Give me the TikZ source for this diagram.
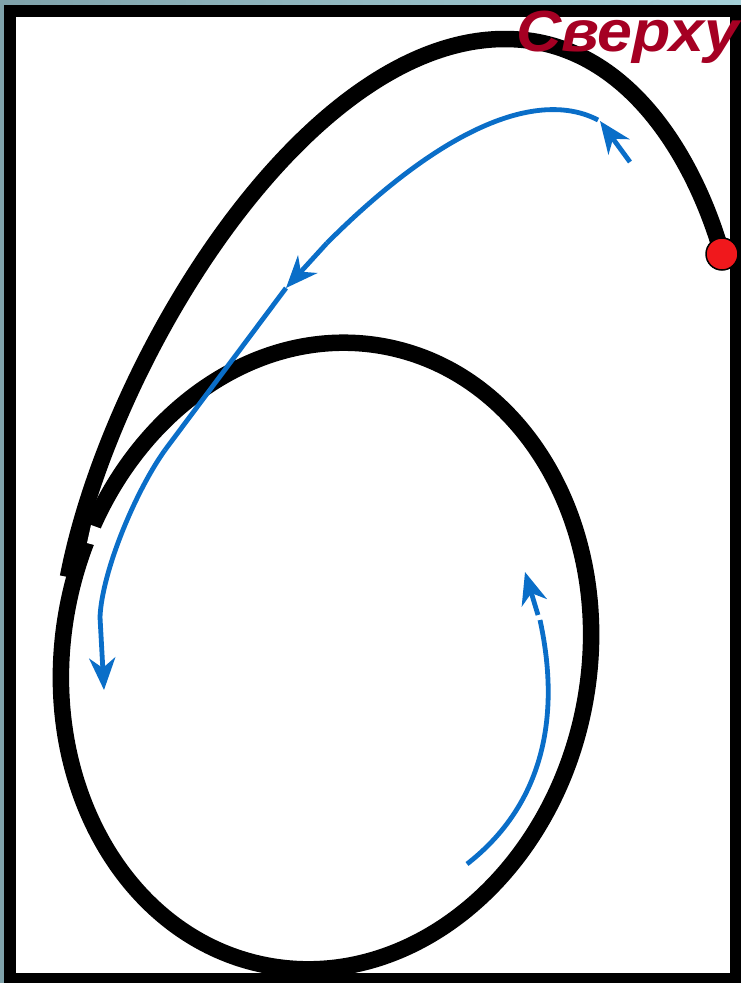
\documentclass[tikz,border=0pt]{standalone}
\usepackage{fontspec}
\setmainfont{Liberation Sans}
\usetikzlibrary{arrows.meta}
\definecolor{bgc}{RGB}{127,162,170}
\definecolor{bgc2}{RGB}{165,208,216}
\definecolor{arrowblue}{RGB}{10,110,200}
\definecolor{labelred}{RGB}{165,0,35}
\definecolor{dotred}{RGB}{240,24,28}
\begin{document}
\begin{tikzpicture}[x=1pt,y=-1pt,
  bluecurve/.style={draw=arrowblue, line width=4.8pt},
  bluetip/.style={-{Stealth[length=32pt,width=26pt,inset=10pt]}},
  blackcurve/.style={draw=black, line width=16.5pt},
]
\useasboundingbox (0,0) rectangle (741,983);
\shade[left color=bgc, right color=bgc2] (0,0) rectangle (741,983);
\fill[black] (4,5) rectangle (741,983);
\fill[white] (16,17) rectangle (730,973);

% named points
\coordinate (start) at (722,254);
\coordinate (top) at (505,39);
\coordinate (outerend) at (68,577);
\coordinate (c) at (326,656);

% outer black curve
\draw[blackcurve] (start) .. controls (694,156) and (625,39) .. (top)
  .. controls (305,39) and (110,360) .. (outerend);

% ellipse
\draw[blackcurve, rotate around={-11:(c)}] (c) ellipse [x radius=263pt, y radius=315pt];

% small white notch
\fill[white] (91,525) -- (102,529) -- (98,546) -- (87,543) -- cycle;

% blue arrows
\coordinate (a1) at (630,162);
\coordinate (a2) at (600,121);
\coordinate (b1) at (598,120);
\coordinate (b2) at (327,243);
\coordinate (c2) at (286,288);
\coordinate (d2) at (165,450);
\coordinate (f2) at (100,617);
\coordinate (g2) at (104,690);
\draw[bluecurve, bluetip] (a1) -- (a2);
\draw[bluecurve] (b1) .. controls (540.5,90) and (447,123) .. (b2);
\draw[bluecurve, bluetip] (b2) -- (c2);
\draw[bluecurve] (c2) -- (d2);
\draw[bluecurve] (d2) .. controls (135,492) and (102,572) .. (f2);
\draw[bluecurve, bluetip] (f2) -- (g2);

\coordinate (r1) at (467,864);
\coordinate (r2) at (540,620);
\coordinate (r2b) at (538,615);
\coordinate (r3) at (525,572);
\draw[bluecurve] (r1) .. controls (539,808) and (562.5,723.5) .. (r2);
\draw[bluecurve, bluetip] (r2b) -- (r3);

% red dot
\node[circle, fill=dotred, draw=black, line width=1.5pt, minimum size=32pt, inner sep=0pt] (dot) at (start) {};

% label
\node[anchor=base west, text=labelred, font=\fontsize{58}{58}\selectfont\bfseries\itshape, inner sep=0pt] (title) at (516,51) {\scalebox{1.08}[1]{Сверху}};
\end{tikzpicture}
\end{document}
